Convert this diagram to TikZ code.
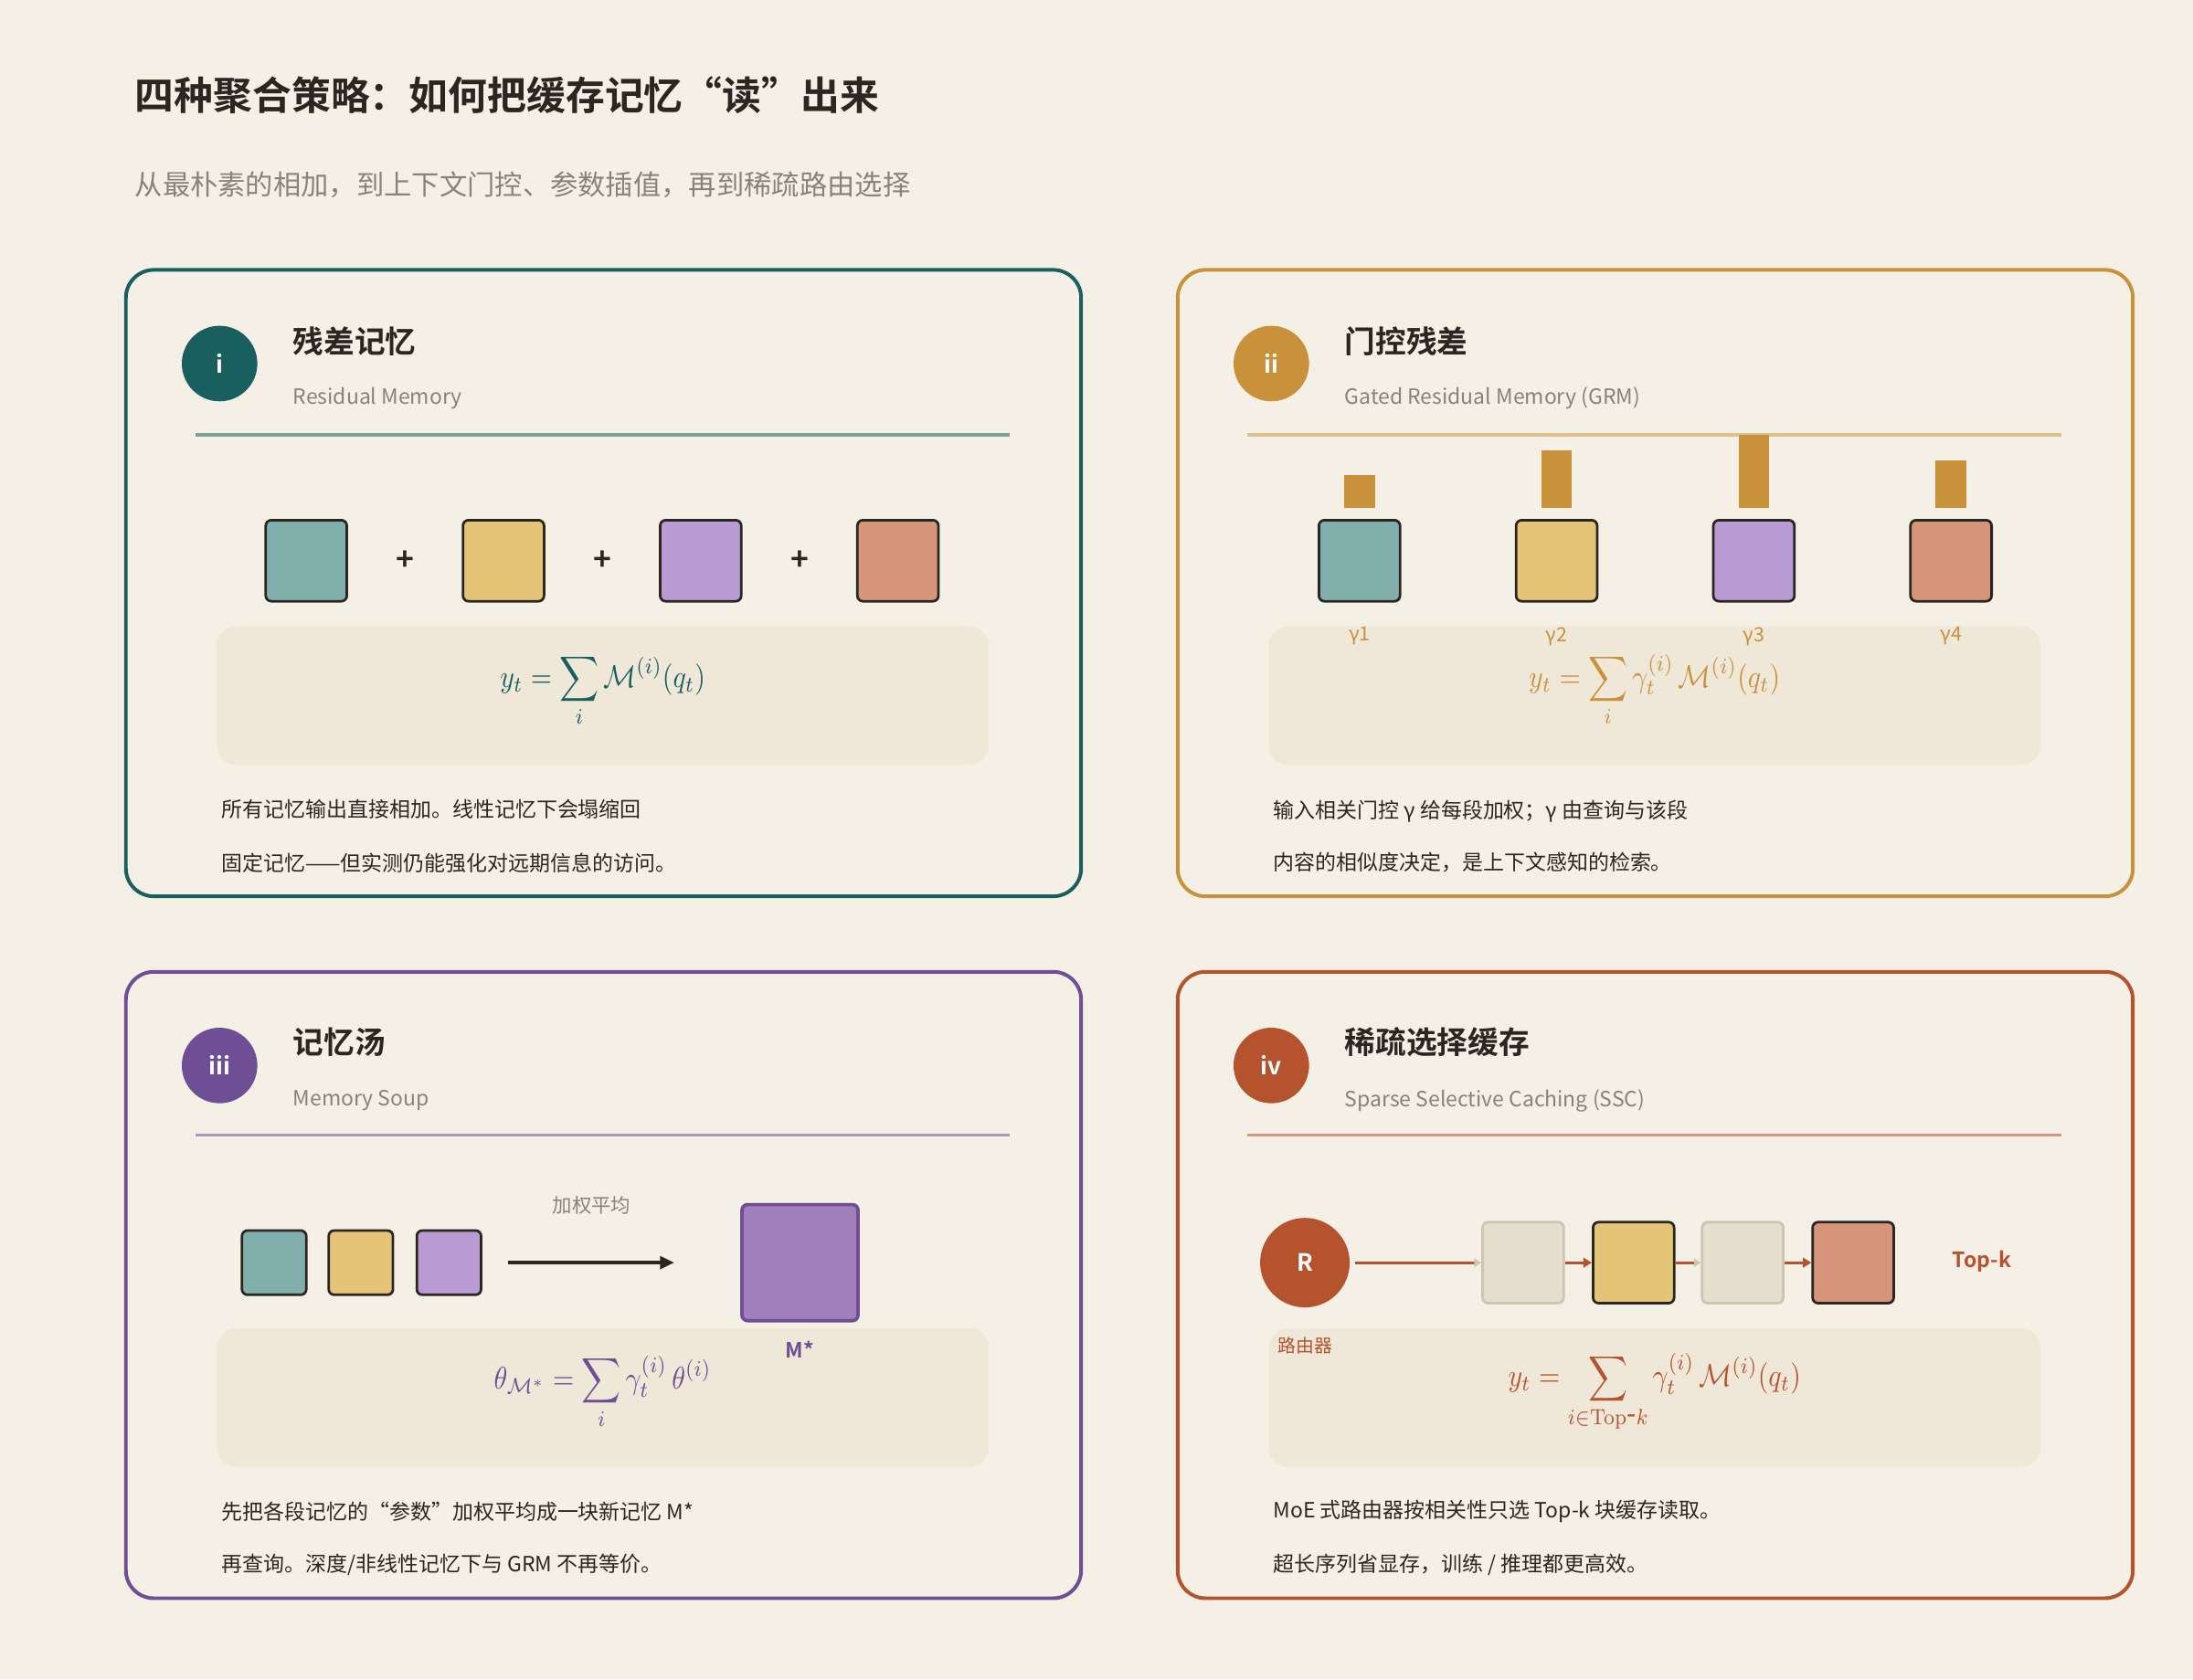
\documentclass[tikz,border=0pt]{standalone}
\usepackage[no-math]{fontspec}
\setmainfont{Noto Sans CJK SC}
\newfontfamily\cjkb{Noto Sans CJK SC Bold}
\usetikzlibrary{arrows.meta}
\definecolor{bg}{HTML}{F5F0E6}
\definecolor{fbox}{HTML}{EFE8D9}
\definecolor{ink}{HTML}{2B2622}
\definecolor{gry}{HTML}{8A8278}
\definecolor{cteal}{HTML}{1A5F5F}
\definecolor{cgold}{HTML}{C8913A}
\definecolor{cpur}{HTML}{6E4F96}
\definecolor{crust}{HTML}{B5532F}
\definecolor{fteal}{HTML}{81B0AC}
\definecolor{fyel}{HTML}{E4C476}
\definecolor{fpur}{HTML}{B89BD2}
\definecolor{fbig}{HTML}{A07FBB}
\definecolor{fsal}{HTML}{D69478}
\definecolor{fgrey}{HTML}{E5DECF}
\definecolor{dgrey}{HTML}{CDC5B4}
\tikzset{
 card/.style={draw=#1,line width=2.6pt,rounded corners=20pt},
 badge/.style={circle,fill=#1,minimum size=54pt,inner sep=0pt,text=white,font=\cjkb\fontsize{17}{17}\selectfont},
 ctitle/.style={anchor=west,text=ink,font=\cjkb\fontsize{22}{24}\selectfont},
 csub/.style={anchor=west,text=gry,font=\fontsize{15}{16}\selectfont},
 body/.style={anchor=west,text=ink,font=\fontsize{15}{16}\selectfont},
 formbox/.style={fill=fbox,rounded corners=14pt},
 mem/.style={draw=ink,line width=1.8pt,rounded corners=4pt,fill=#1,minimum size=58pt,inner sep=0pt},
 smem/.style={draw=ink,line width=1.8pt,rounded corners=4pt,fill=#1,minimum size=46pt,inner sep=0pt},
 gbox/.style={draw=dgrey,line width=1.8pt,rounded corners=4pt,fill=fgrey,minimum size=58pt,inner sep=0pt},
 plus/.style={text=ink,font=\cjkb\fontsize{22}{22}\selectfont},
 formula/.style={text=#1,xscale=1.95,yscale=2.25},
}
\begin{document}
\begin{tikzpicture}[x=1pt,y=-1pt]
\fill[bg] (0,0) rectangle (1568,1201);
\useasboundingbox (0,0) rectangle (1568,1201);
\node[anchor=west,text=ink,font=\cjkb\fontsize{28}{30}\selectfont] (title) at (93,68) {四种聚合策略：如何把缓存记忆“读”出来};
\node[anchor=west,text=gry,font=\fontsize{19.8}{21}\selectfont] (subtitle) at (93,132) {从最朴素的相加，到上下文门控、参数插值，再到稀疏路由选择};

% ---------- card 1
\draw[card=cteal] (90,193) rectangle (773,641);
\node[badge=cteal] (b1) at (157,260) {i};
\node[ctitle] (t1) at (206,244) {残差记忆};
\node[csub] (s1) at (206,285) {Residual Memory};
\draw[cteal!55!bg,line width=2pt] (140,311) -- (722,311);
\node[mem=fteal] (m11) at (219,401) {};
\node[mem=fyel] (m12) at (360,401) {};
\node[mem=fpur] (m13) at (501,401) {};
\node[mem=fsal] (m14) at (642,401) {};
\node[plus] (p11) at (290,401) {+};
\node[plus] (p12) at (431,401) {+};
\node[plus] (p13) at (572,401) {+};
\fill[formbox] (155,448) rectangle (707,547);
\node[formula=cteal] (f1) at (431,494) {$\displaystyle y_t=\sum_i \mathcal{M}^{(i)}(q_t)$};
\node[body] (x11) at (155,579) {所有记忆输出直接相加。线性记忆下会塌缩回};
\node[body] (x12) at (155,617) {固定记忆——但实测仍能强化对远期信息的访问。};

% ---------- card 2
\draw[card=cgold] (842,193) rectangle (1525,641);
\node[badge=cgold] (b2) at (909,260) {ii};
\node[ctitle] (t2) at (958,244) {门控残差};
\node[csub] (s2) at (958,285) {Gated Residual Memory (GRM)};
\draw[cgold!50!bg,line width=2pt] (892,311) -- (1474,311);
\node[mem=fteal] (m21) at (972,401) {};
\node[mem=fyel] (m22) at (1113,401) {};
\node[mem=fpur] (m23) at (1254,401) {};
\node[mem=fsal] (m24) at (1395,401) {};
\fill[cgold] (961,340) rectangle (983,363);
\fill[cgold] (1102,322) rectangle (1124,363);
\fill[cgold] (1243,311) rectangle (1265,363);
\fill[cgold] (1384,329) rectangle (1406,363);
\fill[formbox] (907,448) rectangle (1459,547);
\foreach \x/\n in {972/1,1113/2,1254/3,1395/4}
  \node[text=cgold,font=\fontsize{14}{14}\selectfont] (g\n) at (\x,455) {γ\n};
\node[formula=cgold] (f2) at (1183,494) {$\displaystyle y_t=\sum_i \gamma_t^{(i)}\,\mathcal{M}^{(i)}(q_t)$};
\node[body] (x21) at (907,580) {输入相关门控 γ 给每段加权；γ 由查询与该段};
\node[body] (x22) at (907,617) {内容的相似度决定，是上下文感知的检索。};

% ---------- card 3
\draw[card=cpur] (90,695) rectangle (773,1143);
\node[badge=cpur] (b3) at (157,762) {iii};
\node[ctitle] (t3) at (206,745) {记忆汤};
\node[csub] (s3) at (206,787) {Memory Soup};
\draw[cpur!55!bg,line width=2pt] (140,812) -- (722,812);
\node[smem=fteal] (m31) at (196,903) {};
\node[smem=fyel] (m32) at (258,903) {};
\node[smem=fpur] (m33) at (321,903) {};
\coordinate (a1) at (363,903);
\coordinate (a2) at (482,903);
\draw[ink,line width=2.2pt,-{Triangle[length=10pt,width=9pt]}] (a1) -- (a2);
\node[text=gry,font=\fontsize{14}{14}\selectfont] (lw) at (423,862) {加权平均};
\node[draw=cpur,line width=2.4pt,fill=fbig,minimum size=83pt,inner sep=0pt,rounded corners=4pt] (ms) at (572,903) {};
\fill[formbox] (155,950) rectangle (707,1049);
\node[text=cpur,font=\cjkb\fontsize{15}{15}\selectfont] (mst) at (572,965) {M*};
\node[formula=cpur] (f3) at (431,996) {$\displaystyle \theta_{\mathcal{M}^*}=\sum_i \gamma_t^{(i)}\,\theta^{(i)}$};
\node[body] (x31) at (155,1081) {先把各段记忆的“参数”加权平均成一块新记忆 M*};
\node[body] (x32) at (155,1119) {再查询。深度/非线性记忆下与 GRM 不再等价。};

% ---------- card 4
\draw[card=crust] (842,695) rectangle (1525,1143);
\node[badge=crust] (b4) at (909,762) {iv};
\node[ctitle] (t4) at (958,745) {稀疏选择缓存};
\node[csub] (s4) at (958,787) {Sparse Selective Caching (SSC)};
\draw[crust!55!bg,line width=2pt] (892,812) -- (1474,812);
\fill[formbox] (907,950) rectangle (1459,1049);
\node[circle,fill=crust,minimum size=64pt,inner sep=0pt,text=white,font=\cjkb\fontsize{17}{17}\selectfont] (R) at (933,903) {R};
\node[gbox] (c1) at (1089,903) {};
\node[mem=fyel] (c2) at (1168,903) {};
\node[gbox] (c3) at (1246,903) {};
\node[mem=fsal] (c4) at (1325,903) {};
\draw[crust,line width=2pt,shorten <=4pt,-{Triangle[length=5pt,width=6pt,color=dgrey]}] (R) -- (c1);
\draw[crust,line width=2pt,-{Triangle[length=6pt,width=7pt]}] (c1) -- (c2);
\draw[crust,line width=2pt,-{Triangle[length=5pt,width=6pt,color=dgrey]}] (c2) -- (c3);
\draw[crust,line width=2pt,-{Triangle[length=6pt,width=7pt]}] (c3) -- (c4);
\node[text=crust,font=\cjkb\fontsize{15}{15}\selectfont] (tk) at (1417,902) {Top-k};
\node[text=crust,font=\fontsize{13}{13}\selectfont] (rl) at (933,962) {路由器};
\node[formula=crust] (f4) at (1183,996) {$\displaystyle y_t=\sum_{i\in\mathrm{Top\mbox{-}}k} \gamma_t^{(i)}\,\mathcal{M}^{(i)}(q_t)$};
\node[body] (x41) at (907,1081) {MoE 式路由器按相关性只选 Top-k 块缓存读取。};
\node[body] (x42) at (907,1119) {超长序列省显存，训练 / 推理都更高效。};
\end{tikzpicture}
\end{document}
